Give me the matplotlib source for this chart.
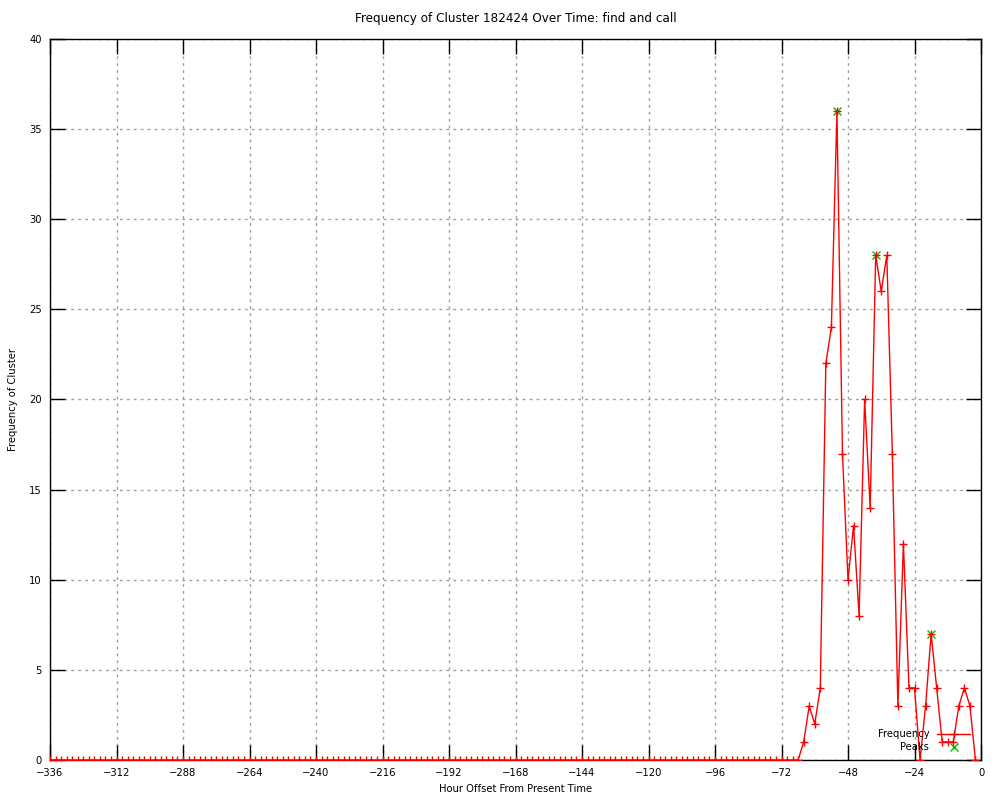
import numpy as np
import matplotlib
matplotlib.use('Agg')
import matplotlib.pyplot as plt

plt.rcParams.update({'font.family': 'DejaVu Sans', 'font.size': 7.2})

# Hour offsets, one sample every two hours.
hours = np.arange(-336, 0, 2)

# Cluster frequency per sample (flat zero until -70 h).
freq_quiet = [0] * 134
freq_active = [0, 0, 1, 3, 2, 4, 22, 24, 36, 17, 10, 13, 8, 20, 14, 28, 26, 28,
               17, 3, 12, 4, 4, 0, 3, 7, 4, 1, 1, 1, 3, 4, 3, 0]
freq = freq_quiet + freq_active

# Detected peaks.
peak_hours = [-52, -38, -18]
peak_freq = [36, 28, 7]

xticks = list(range(-336, 1, 24))
yticks = list(range(0, 41, 5))

fig = plt.figure(figsize=(10, 8), dpi=100)
ax = fig.add_axes([0.05, 0.05, 0.931, 0.90125])

ax.plot(hours, freq, color='red', linewidth=1, marker='+', markersize=6,
        markeredgewidth=1, label='Frequency', zorder=3)
ax.plot(peak_hours, peak_freq, linestyle='None', color='#00c000', marker='x',
        markersize=6, markeredgewidth=1, label='Peaks', zorder=2)

ax.set_xlim(-336, 0)
ax.set_ylim(0, 40)
ax.set_xticks(xticks)
ax.set_yticks(yticks)
ax.tick_params(direction='in', length=11, width=1, top=True, right=True, pad=6)
ax.grid(True, color='#a0a0a0', linestyle=(0, (2, 3)), linewidth=1)
for s in ax.spines.values():
    s.set_linewidth(1)

ax.set_title('Frequency of Cluster 182424 Over Time: find and call', pad=12)
ax.set_xlabel('Hour Offset From Present Time', labelpad=4)
ax.set_ylabel('Frequency of Cluster', labelpad=8)

leg = ax.legend(loc='lower right', bbox_to_anchor=(0.997, 0.0), frameon=False,
                markerfirst=False, handlelength=3.3, handletextpad=0.8,
                labelspacing=0.3, borderpad=0.3)
for c in leg._legend_handle_box.get_children():
    c.align = 'right'

fig.savefig('out.png')
